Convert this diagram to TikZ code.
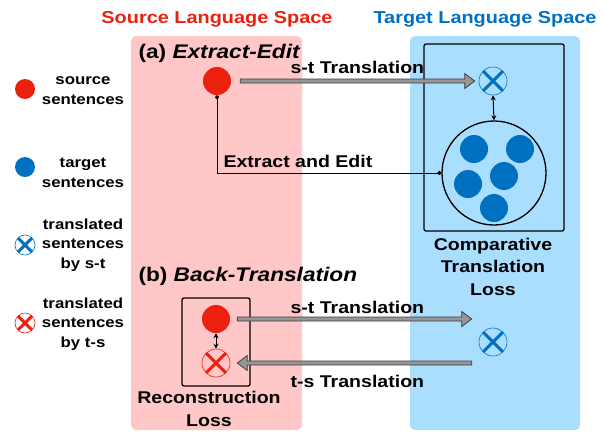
\documentclass[tikz,border=0pt]{standalone}
\usepackage{fontspec}
\setmainfont{Liberation Sans}[FakeStretch=1.15]
\usetikzlibrary{arrows.meta,positioning,calc}

\definecolor{srcred}{RGB}{236,32,14}
\definecolor{tgtblue}{RGB}{0,112,192}
\definecolor{pinkbg}{RGB}{255,199,199}
\definecolor{bluebg}{RGB}{170,222,255}
\definecolor{arrowfill}{RGB}{150,150,150}
\definecolor{arrowline}{RGB}{60,60,60}

\tikzset{
  sent/.style={circle, fill=#1, inner sep=0pt, minimum size=28bp},
  xsent/.style={circle, draw=#1, line width=0.6bp, inner sep=0pt, minimum size=28bp,
    path picture={\draw[#1, line width=3bp]
      (path picture bounding box.north west) -- (path picture bounding box.south east)
      (path picture bounding box.north east) -- (path picture bounding box.south west);}},
  lossbox/.style={draw, line width=1.3bp, rounded corners=2bp, inner sep=0pt},
  title/.style={font=\bfseries\fontsize{17.3bp}{20bp}\selectfont, anchor=base},
  part/.style={font=\bfseries\fontsize{19.7bp}{24bp}\selectfont, anchor=base west},
  lbl/.style={font=\bfseries\fontsize{17bp}{22.5bp}\selectfont, align=center},
  leg/.style={font=\bfseries\fontsize{14.6bp}{19.5bp}\selectfont, align=center, anchor=base},
  link/.style={line width=1bp, {Stealth[length=5bp,width=5bp]}-{Stealth[length=5bp,width=5bp]}}
}

% grey block arrow, horizontal, at the height of its start
\newcommand\blockarrow[2]{%
  \path[draw=arrowline, fill=arrowfill, line width=0.8bp]
    let \p1=(#1), \p2=(#2), \n1={(\x2-\x1)/abs(\x2-\x1)} in
    (\x1,\y1+2bp) -- (\x2-\n1*10bp,\y1+2bp) -- (\x2-\n1*10bp,\y1+7.5bp) -- (\x2,\y1)
    -- (\x2-\n1*10bp,\y1-7.5bp) -- (\x2-\n1*10bp,\y1-2bp) -- (\x1,\y1-2bp) -- cycle;}

\begin{document}
\begin{tikzpicture}[x=1bp, y=-1bp]
  \useasboundingbox (0,0) rectangle (603,432);
  \fill[pinkbg, rounded corners=5bp] (131,36) rectangle (302,430);
  \fill[bluebg, rounded corners=5bp] (410,36) rectangle (580,430);

  \node[title, text=srcred] (srctitle) at (217,23) {Source Language Space};
  \node[title, text=tgtblue] (tgttitle) at (485,23) {Target Language Space};

  % legend (base = last line)
  \node[sent=srcred, minimum size=20bp] (legsrc) at (25,89) {};
  \node[leg] (legsrctxt) at (83,104) {source\\sentences};
  \node[sent=tgtblue, minimum size=20bp] (legtgt) at (25,167) {};
  \node[leg] (legtgttxt) at (83,187) {target\\sentences};
  \node[xsent=tgtblue, minimum size=20bp] (legst) at (25,245) {};
  \node[leg] (legsttxt) at (83,268) {translated\\sentences\\by s-t};
  \node[xsent=srcred, minimum size=20bp] (legts) at (25,323) {};
  \node[leg] (legtstxt) at (83,347) {translated\\sentences\\by t-s};

  % (a) extract-edit
  \node[part] (parta) at (135,58) {(a) \textit{Extract-Edit}};
  \node[lossbox, minimum width=140bp, minimum height=187bp] (ctlbox) at (494,137.5) {};
  \node[sent=srcred] (src) at (217,81) {};
  \node[xsent=tgtblue] (xt) at (493,81) {};
  \node[circle, draw, line width=1.3bp, minimum size=104bp, inner sep=0pt] (pool) at (494,173) {};
  \foreach \px/\py [count=\i] in {474/149, 520/149, 504/176, 468/184, 494/208}
    \node[sent=tgtblue] (tgt\i) at (\px,\py) {};

  \blockarrow{[xshift=9bp]src.east}{[xshift=-4bp]xt.west}
  \node[lbl, anchor=base west] (stlbla) at (287,73) {s-t Translation};
  \draw[link] (xt.south) -- (pool.north);
  \draw[line width=1bp, {Circle[length=4bp]}-{Circle[length=4bp]}] (src.south) |- (pool.west);
  \node[lbl, anchor=base west] (edlbl) at (220,167) {Extract and Edit};
  \node[lbl, anchor=base] (ctllbl) at (493,295) {Comparative\\Translation\\Loss};

  % (b) back-translation
  \node[part] (partb) at (135,281) {(b) \textit{Back-Translation}};
  \node[lossbox, minimum width=68bp, minimum height=88bp] (recbox) at (216,342) {};
  \node[sent=srcred] (src2) at (216,319) {};
  \node[xsent=srcred] (rec) at (216,363) {};
  \node[xsent=tgtblue] (xt2) at (493,342) {};

  \draw[link] (src2.south) -- (rec.north);
  \blockarrow{[xshift=7bp]src2.east}{[xshift=-7bp]xt2.west}
  \blockarrow{$(xt2.west |- rec)+(-7bp,0)$}{[xshift=7bp]rec.east}
  \node[lbl, anchor=base west] (stlblb) at (287,313) {s-t Translation};
  \node[lbl, anchor=base west] (tslbl) at (287,387) {t-s Translation};
  \node[lbl, anchor=base] (reclbl) at (209,426) {Reconstruction\\Loss};
\end{tikzpicture}
\end{document}
